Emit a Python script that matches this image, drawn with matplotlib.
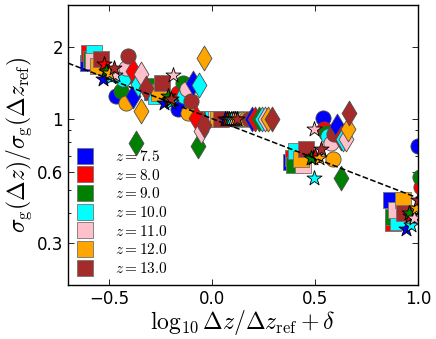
import matplotlib
matplotlib.use('Agg')
import matplotlib.pyplot as plt
import numpy as np
from matplotlib.lines import Line2D
from matplotlib.ticker import FixedLocator, FixedFormatter, NullFormatter

plt.rcParams['mathtext.fontset'] = 'cm'

# redshifts and their colours
redshifts = [7.5, 8.0, 9.0, 10.0, 11.0, 12.0, 13.0]
colors    = ['blue', 'red', 'green', 'cyan', 'pink', 'orange', 'brown']

# squares: one row per redshift
sq_x = [[-0.602, -0.290, -0.030, 0.383, 0.869],
        [-0.597, -0.280, -0.018, 0.393, 0.879],
        [-0.587, -0.296, -0.006, 0.398, 0.879],
        [-0.573, -0.272,  0.006, 0.408, 0.903],
        [-0.580, -0.260,  0.018, 0.442, 0.893],
        [-0.553, -0.257,  0.030, 0.432, 0.927],
        [-0.539, -0.243,  0.042, 0.456, 0.932]]
sq_y = [[1.715, 1.30, 1.0, 0.655, 0.454],
        [1.890, 1.33, 1.0, 0.687, 0.364],
        [1.780, 1.374, 1.0, 0.636, 0.385],
        [1.890, 1.248, 1.0, 0.735, 0.367],
        [1.750, 1.30, 1.0, 0.636, 0.412],
        [1.667, 1.285, 1.0, 0.680, 0.454],
        [1.780, 1.415, 1.0, 0.749, 0.401]]

# circles
ci_x = [[-0.466, -0.165, 0.100, 0.539, 0.998],
        [-0.410, -0.165, 0.113, 0.544, 1.012],
        [-0.442, -0.141, 0.126, 0.553, 1.010],
        [-0.432, -0.136, 0.139, 0.563, 1.040],
        [-0.417, -0.121, 0.152, 0.578, 1.045],
        [-0.417, -0.117, 0.165, 0.587, 1.050],
        [-0.408, -0.102, 0.178, 0.592, 1.055]]
ci_y = [[1.248, 1.10, 1.0, 1.01, 0.771],
        [1.513, 1.285, 1.0, 0.908, 0.514],
        [1.310, 1.415, 1.0, 0.874, 0.567],
        [1.470, 1.248, 1.0, 0.849, 0.60],
        [1.635, 1.335, 1.0, 0.794, 0.62],
        [1.166, 1.060, 1.0, 0.680, 0.58],
        [1.835, 1.190, 1.0, 0.865, 0.64]]

# diamonds
di_x = [[-0.383, -0.092, 0.195, 0.607],
        [-0.383, -0.078, 0.210, 0.626],
        [-0.369, -0.068, 0.225, 0.626],
        [-0.359, -0.063, 0.240, 0.636],
        [-0.345, -0.053, 0.255, 0.650],
        [-0.345, -0.039, 0.270, 0.660],
        [-0.320, -0.039, 0.290, 0.665]]
di_y = [[1.248, 1.415, 1.0, 0.935],
        [1.588, 1.010, 1.0, 0.833],
        [0.794, 0.771, 1.0, 0.561],
        [1.400, 1.387, 1.0, 0.825],
        [1.543, 0.891, 1.0, 0.825],
        [1.080, 1.800, 1.0, 0.908],
        [1.349, 0.944, 1.0, 1.060]]

# stars
st_x = [[-0.529, -0.233, 0.060, 0.490, 0.942],
        [-0.524, -0.210, 0.070, 0.500, 0.960],
        [-0.515, -0.214, 0.080, 0.481, 0.956],
        [-0.490, -0.199, 0.090, 0.495, 0.966],
        [-0.470, -0.189, 0.100, 0.495, 0.981],
        [-0.500, -0.205, 0.110, 0.519, 0.990],
        [-0.476, -0.200, 0.120, 0.529, 1.000]]
st_y = [[1.470, 1.166, 1.0, 0.687, 0.343],
        [1.700, 1.200, 1.0, 0.700, 0.390],
        [1.588, 1.248, 1.0, 0.687, 0.401],
        [1.490, 1.175, 1.0, 0.561, 0.357],
        [1.530, 1.528, 1.0, 0.908, 0.382],
        [1.560, 1.200, 1.0, 0.687, 0.420],
        [1.635, 1.210, 1.0, 0.749, 0.454]]

# dashed reference line
line_x = [-0.7, 1.0]
line_slope = -1.0 / 3.0

fig = plt.figure(figsize=(4.36, 3.39), dpi=100)
ax = fig.add_axes([0.156, 0.159, 0.803, 0.826])

shapes = [(sq_x, sq_y, 's', 120, '0.45'),
          (ci_x, ci_y, 'o', 120, '0.3'),
          (di_x, di_y, 'd', 160, '0.3'),
          (st_x, st_y, '*', 130, 'k')]
for xs, ys, m, s, ec in shapes:
    for i in range(len(redshifts)):
        ax.scatter(xs[i], ys[i], marker=m, s=s, c=colors[i],
                   edgecolors=ec, linewidths=0.6, zorder=2)

lx = np.array(line_x)
ax.plot(lx, 10 ** (line_slope * lx), 'k--', lw=1.1, zorder=3)

ax.set_yscale('log')
ax.set_xlim(-0.7, 1.0)
ax.set_ylim(0.2, 3.0)
ax.yaxis.set_major_locator(FixedLocator([0.3, 0.6, 1, 2]))
ax.yaxis.set_major_formatter(FixedFormatter(['0.3', '0.6', '1', '2']))
ax.yaxis.set_minor_locator(FixedLocator([0.2, 0.4, 0.5, 0.7, 0.8, 0.9, 3]))
ax.yaxis.set_minor_formatter(NullFormatter())
ax.set_xticks([-0.5, 0.0, 0.5, 1.0])
ax.set_xticklabels(['\u22120.5', '0.0', '0.5', '1.0'])
ax.tick_params(which='both', direction='in', top=True, right=True,
               labelsize=12, width=0.6)
ax.tick_params(which='major', length=4)
ax.tick_params(which='minor', length=2)
for sp in ax.spines.values():
    sp.set_linewidth(1.0)

ax.set_xlabel(r'$\log_{10}\Delta z/\Delta z_{\rm ref}+\delta$', fontsize=17, labelpad=0)
ax.set_ylabel(r'$\sigma_{\rm g}(\Delta z)/\sigma_{\rm g}(\Delta z_{\rm ref})$', fontsize=17, labelpad=2)

handles = [Line2D([], [], ls='none', marker='s', ms=11, mfc=c, mec='0.45', mew=0.6)
           for c in colors]
labels = [r'$z = %.1f$' % z for z in redshifts]
ax.legend(handles, labels, loc='lower left', frameon=False, fontsize=11,
          labelspacing=0.24, handlelength=1.0, handletextpad=1.5,
          borderaxespad=0.2, numpoints=1)

fig.savefig('out.png', dpi=100)
